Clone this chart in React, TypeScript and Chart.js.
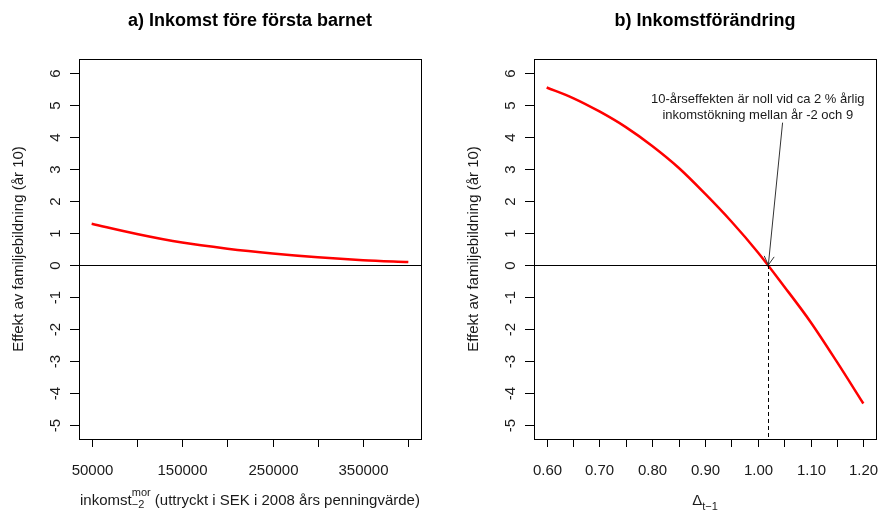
import React, { useEffect, useRef } from "react";
import { Chart, registerables } from "chart.js";

Chart.register(...registerables);

// ---------- data ----------
const incomeValues = [50000, 100000, 150000, 200000, 250000, 300000, 350000, 400000];
const incomeEffect = [1.29, 0.97, 0.7, 0.51, 0.36, 0.24, 0.15, 0.09];
const incomeTicks = [50000, 100000, 150000, 200000, 250000, 300000, 350000, 400000];
const incomeTickLabels = ["50000", "", "150000", "", "250000", "", "350000", ""];

const deltaValues = [0.6, 0.65, 0.7, 0.75, 0.8, 0.85, 0.9, 0.95, 1.0, 1.05, 1.1, 1.15, 1.2];
const deltaEffect = [5.55, 5.22, 4.8, 4.31, 3.72, 3.04, 2.23, 1.36, 0.4, -0.67, -1.78, -3.03, -4.33];
const deltaTicks = [0.6, 0.65, 0.7, 0.75, 0.8, 0.85, 0.9, 0.95, 1.0, 1.05, 1.1, 1.15, 1.2];
const deltaTickLabels = ["0.60", "", "0.70", "", "0.80", "", "0.90", "", "1.00", "", "1.10", "", "1.20"];

const effectTicks = [-5, -4, -3, -2, -1, 0, 1, 2, 3, 4, 5, 6];
const effectTickLabels = ["-5", "-4", "-3", "-2", "-1", "0", "1", "2", "3", "4", "5", "6"];

const titleA = "a) Inkomst före första barnet";
const titleB = "b) Inkomstförändring";
const yTitle = "Effekt av familjebildning (år 10)";
const xTitleA = ["inkomst", "mor", "\u22122", " (uttryckt i SEK i 2008 års penningvärde)"];
const xTitleB = ["\u0394", "t\u22121"];

const zeroCrossing = 1.02;
const annotationLines = ["10-årseffekten är noll vid ca 2 % årlig", "inkomstökning mellan år -2 och 9"];
const annotationX = 1.0;
const annotationY = [5.07, 4.57];
const arrowStart = [1.047, 4.45];

const yRange = [-5.44, 6.44];
const incomeRange = [36000, 414000];
const deltaRange = [0.576, 1.224];

// ---------- helpers ----------
const FONT = '"Liberation Sans", Arial, sans-serif';
const TEXT = "#1a1a1a";

function makePanelPlugin(cfg: any) {
  return {
    id: "rPanel",
    afterDraw(chart: any) {
      const { ctx, chartArea: a } = chart;
      const xs = chart.scales.x;
      const ys = chart.scales.y;
      ctx.save();
      ctx.lineWidth = 1;
      ctx.strokeStyle = "#000";
      ctx.fillStyle = TEXT;

      // zero line
      const y0 = Math.round(ys.getPixelForValue(0)) + 0.5;
      ctx.beginPath();
      ctx.moveTo(a.left, y0);
      ctx.lineTo(a.right, y0);
      ctx.stroke();

      if (cfg.extra) cfg.extra(chart);

      // box
      ctx.strokeStyle = "#000";
      ctx.lineWidth = 1;
      ctx.setLineDash([]);
      ctx.strokeRect(
        Math.round(a.left) + 0.5,
        Math.round(a.top) + 0.5,
        Math.round(a.right - a.left),
        Math.round(a.bottom - a.top)
      );

      // x ticks
      ctx.font = `15px ${FONT}`;
      ctx.textAlign = "center";
      ctx.textBaseline = "alphabetic";
      cfg.xTicks.forEach((v: number, i: number) => {
        const px = Math.round(xs.getPixelForValue(v)) + 0.5;
        ctx.beginPath();
        ctx.moveTo(px, a.bottom);
        ctx.lineTo(px, a.bottom + 8);
        ctx.stroke();
        const lab = cfg.xTickLabels[i];
        if (lab) ctx.fillText(lab, px, a.bottom + 36);
      });

      // y ticks (labels parallel to axis)
      cfg.yTicks.forEach((v: number, i: number) => {
        const py = Math.round(ys.getPixelForValue(v)) + 0.5;
        ctx.beginPath();
        ctx.moveTo(a.left - 9, py);
        ctx.lineTo(a.left, py);
        ctx.stroke();
        ctx.save();
        ctx.translate(a.left - 19, py);
        ctx.rotate(-Math.PI / 2);
        ctx.fillText(cfg.yTickLabels[i], 0, 0);
        ctx.restore();
      });

      // y title
      ctx.save();
      ctx.translate(a.left - 56, (a.top + a.bottom) / 2);
      ctx.rotate(-Math.PI / 2);
      ctx.font = `15px ${FONT}`;
      ctx.fillText(cfg.yTitle, 0, 0);
      ctx.restore();

      // main title
      ctx.fillStyle = "#000";
      ctx.font = `bold 18px ${FONT}`;
      ctx.textAlign = "center";
      ctx.fillText(cfg.title, (a.left + a.right) / 2, 26);

      // x title
      ctx.fillStyle = TEXT;
      cfg.xTitle(ctx, (a.left + a.right) / 2, 505);

      ctx.restore();
    },
  };
}

function drawXTitleA(ctx: CanvasRenderingContext2D, cx: number, base: number) {
  const big = `15px ${FONT}`;
  const small = `11px ${FONT}`;
  ctx.font = big;
  const w1 = ctx.measureText(xTitleA[0]).width;
  const w4 = ctx.measureText(xTitleA[3]).width;
  ctx.font = small;
  const w2 = Math.max(ctx.measureText(xTitleA[1]).width, ctx.measureText(xTitleA[2]).width);
  const total = w1 + w2 + w4;
  let x = cx - total / 2;
  ctx.textAlign = "left";
  ctx.font = big;
  ctx.fillText(xTitleA[0], x, base);
  x += w1;
  ctx.font = small;
  ctx.fillText(xTitleA[1], x, base - 9);
  ctx.fillText(xTitleA[2], x, base + 3);
  x += w2;
  ctx.font = big;
  ctx.fillText(xTitleA[3], x, base);
}

function drawXTitleB(ctx: CanvasRenderingContext2D, cx: number, base: number) {
  const big = `15px ${FONT}`;
  const small = `11px ${FONT}`;
  ctx.font = big;
  const w1 = ctx.measureText(xTitleB[0]).width;
  ctx.font = small;
  const w2 = ctx.measureText(xTitleB[1]).width;
  let x = cx - (w1 + w2) / 2;
  ctx.textAlign = "left";
  ctx.font = big;
  ctx.fillText(xTitleB[0], x, base);
  x += w1;
  ctx.font = small;
  ctx.fillText(xTitleB[1], x, base + 5);
}

function drawAnnotation(chart: any) {
  const { ctx, chartArea: a } = chart;
  const xs = chart.scales.x;
  const ys = chart.scales.y;
  // dashed vertical line
  const px = Math.round(xs.getPixelForValue(zeroCrossing)) + 0.5;
  ctx.save();
  ctx.setLineDash([4, 3]);
  ctx.strokeStyle = "#000";
  ctx.beginPath();
  ctx.moveTo(px, ys.getPixelForValue(0));
  ctx.lineTo(px, a.bottom);
  ctx.stroke();
  ctx.setLineDash([]);

  // arrow
  const x1 = xs.getPixelForValue(arrowStart[0]);
  const y1 = ys.getPixelForValue(arrowStart[1]);
  const x2 = xs.getPixelForValue(zeroCrossing);
  const y2 = ys.getPixelForValue(0);
  ctx.strokeStyle = "#333";
  ctx.beginPath();
  ctx.moveTo(x1, y1);
  ctx.lineTo(x2, y2);
  const ang = Math.atan2(y2 - y1, x2 - x1);
  const len = 10;
  const spread = Math.PI / 6;
  ctx.moveTo(x2 - len * Math.cos(ang - spread), y2 - len * Math.sin(ang - spread));
  ctx.lineTo(x2, y2);
  ctx.lineTo(x2 - len * Math.cos(ang + spread), y2 - len * Math.sin(ang + spread));
  ctx.stroke();

  // text
  ctx.fillStyle = TEXT;
  ctx.font = `13px ${FONT}`;
  ctx.textAlign = "center";
  ctx.textBaseline = "alphabetic";
  annotationLines.forEach((t, i) => {
    ctx.fillText(t, xs.getPixelForValue(annotationX), ys.getPixelForValue(annotationY[i]));
  });
  ctx.restore();
}

function makeConfig(xv: number[], yv: number[], xr: number[], padding: any, plugin: any): any {
  return {
    type: "scatter",
    data: {
      datasets: [
        {
          data: xv.map((x, i) => ({ x, y: yv[i] })),
          showLine: true,
          borderColor: "#ff0000",
          backgroundColor: "#ff0000",
          borderWidth: 2.5,
          pointRadius: 0,
          cubicInterpolationMode: "monotone",
        },
      ],
    },
    options: {
      responsive: false,
      animation: false,
      devicePixelRatio: 1,
      layout: { padding },
      plugins: { legend: { display: false }, tooltip: { enabled: false }, title: { display: false } },
      scales: {
        x: { type: "linear", min: xr[0], max: xr[1], display: false },
        y: { type: "linear", min: yRange[0], max: yRange[1], display: false },
      },
    },
    plugins: [plugin],
  };
}

export default function App() {
  const leftRef = useRef<HTMLCanvasElement>(null);
  const rightRef = useRef<HTMLCanvasElement>(null);

  useEffect(() => {
    const pa = makePanelPlugin({
      title: titleA,
      xTicks: incomeTicks,
      xTickLabels: incomeTickLabels,
      yTicks: effectTicks,
      yTickLabels: effectTickLabels,
      yTitle,
      xTitle: drawXTitleA,
    });
    const pb = makePanelPlugin({
      title: titleB,
      xTicks: deltaTicks,
      xTickLabels: deltaTickLabels,
      yTicks: effectTicks,
      yTickLabels: effectTickLabels,
      yTitle,
      xTitle: drawXTitleB,
      extra: drawAnnotation,
    });
    const c1 = new Chart(
      leftRef.current as HTMLCanvasElement,
      makeConfig(incomeValues, incomeEffect, incomeRange, { left: 79, right: 19, top: 59, bottom: 73 }, pa)
    );
    const c2 = new Chart(
      rightRef.current as HTMLCanvasElement,
      makeConfig(deltaValues, deltaEffect, deltaRange, { left: 94, right: 3, top: 59, bottom: 73 }, pb)
    );
    return () => {
      c1.destroy();
      c2.destroy();
    };
  }, []);

  return (
    <div style={{ position: "absolute", left: 0, top: 0, width: 879, height: 512, background: "#fff" }}>
      <canvas ref={leftRef} width={440} height={512} style={{ position: "absolute", left: 0, top: 0, width: 440, height: 512 }} />
      <canvas ref={rightRef} width={439} height={512} style={{ position: "absolute", left: 440, top: 0, width: 439, height: 512 }} />
    </div>
  );
}
